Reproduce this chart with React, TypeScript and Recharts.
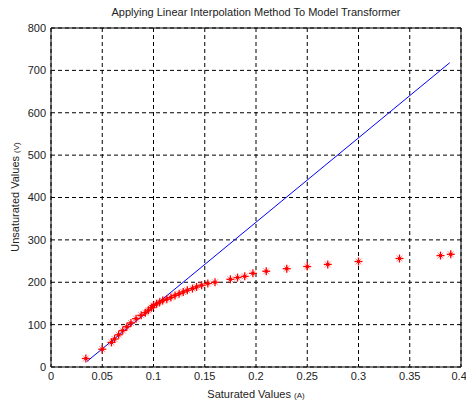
import React from 'react';
import { ScatterChart, Scatter, XAxis, YAxis, CartesianGrid, ReferenceLine } from 'recharts';

// saturated (measured) points, red asterisks
const satX = [
  0.034, 0.05, 0.059, 0.062, 0.066, 0.07, 0.074, 0.078, 0.083, 0.088,
  0.092, 0.095, 0.098, 0.1, 0.103, 0.106, 0.109, 0.113, 0.117, 0.121,
  0.125, 0.129, 0.133, 0.138, 0.142, 0.147, 0.153, 0.16, 0.175, 0.182,
  0.189, 0.197, 0.21, 0.23, 0.25, 0.27, 0.3, 0.34, 0.38, 0.39,
];
const satY = [
  20, 42, 58, 66, 76, 86, 95, 104, 114, 122,
  128, 134, 140, 145, 149, 153, 157, 160, 164, 169,
  173, 177, 181, 185, 189, 193, 197, 200, 207, 211,
  214, 221, 226, 232, 237, 242, 249, 256, 263, 266,
];

// linear (unsaturated) model, blue line
const fitX = [0.035, 0.389];
const fitY = [13, 718];

const xTicks = [0, 0.05, 0.1, 0.15, 0.2, 0.25, 0.3, 0.35, 0.4];
const yTicks = [0, 100, 200, 300, 400, 500, 600, 700, 800];

const satData = satX.map((x, i) => ({ x, y: satY[i] }));
const fitData = fitX.map((x, i) => ({ x, y: fitY[i] }));

const FONT = '"Liberation Sans", Arial, Helvetica, sans-serif';
const tickStyle = { fontSize: 11, fill: '#222', fontFamily: FONT };

const Star = (props: any) => {
  const { cx, cy } = props;
  if (cx == null || cy == null) return null;
  const r = 4;
  const d = 3;
  return (
    <g>
      <line x1={cx - d} y1={cy - d} x2={cx + d} y2={cy + d} stroke="#ff0000" strokeOpacity={0.45} />
      <line x1={cx - d} y1={cy + d} x2={cx + d} y2={cy - d} stroke="#ff0000" strokeOpacity={0.45} />
      <line x1={cx - r} y1={cy} x2={cx + r} y2={cy} stroke="#ff0000" strokeWidth={1.3} />
      <line x1={cx} y1={cy - r} x2={cx} y2={cy + r} stroke="#ff0000" strokeWidth={1.3} />
      <rect x={cx - 1.5} y={cy - 1.5} width={3} height={3} fill="#ff0000" />
    </g>
  );
};

const App: React.FC = () => {
  return (
    <div style={{ position: 'absolute', left: 0, top: 0, width: 466, height: 405, background: '#fff', fontFamily: FONT }}>
      <div style={{ position: 'absolute', left: 51, width: 410, top: 6, textAlign: 'center', fontSize: 11, color: '#222' }}>
        Applying Linear Interpolation Method To Model Transformer
      </div>
      <ScatterChart width={466} height={405} margin={{ top: 28, right: 5, bottom: 0, left: 0 }}>
        <CartesianGrid strokeDasharray="4 3" stroke="#000" />
        <XAxis
          type="number"
          dataKey="x"
          domain={[0, 0.4]}
          ticks={xTicks}
          height={38}
          tick={tickStyle}
          tickLine={false}
          tickSize={0}
          tickMargin={5}
          axisLine={{ stroke: '#000' }}
          allowDataOverflow
        />
        <YAxis
          type="number"
          dataKey="y"
          domain={[0, 800]}
          ticks={yTicks}
          width={51}
          tick={tickStyle}
          tickLine={false}
          tickSize={0}
          tickMargin={5}
          axisLine={{ stroke: '#000' }}
          allowDataOverflow
        />
        <ReferenceLine x={0.4} stroke="#000" />
        <ReferenceLine y={800} stroke="#000" />
        <Scatter
          data={fitData}
          line={{ stroke: '#0000ff', strokeWidth: 1 }}
          shape={() => null}
          isAnimationActive={false}
        />
        <Scatter data={satData} shape={Star} isAnimationActive={false} />
      </ScatterChart>
      <div style={{ position: 'absolute', left: 51, width: 410, top: 388, textAlign: 'center', fontSize: 11, color: '#222' }}>
        Saturated Values <span style={{ fontSize: 8 }}>(A)</span>
      </div>
      <div
        style={{
          position: 'absolute',
          left: 15,
          top: 197,
          transform: 'translate(-50%, -50%) rotate(-90deg)',
          whiteSpace: 'nowrap',
          fontSize: 11,
          color: '#222',
        }}
      >
        Unsaturated Values <span style={{ fontSize: 8 }}>(V)</span>
      </div>
    </div>
  );
};

export default App;
